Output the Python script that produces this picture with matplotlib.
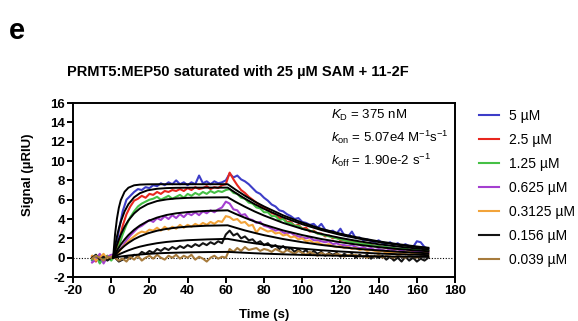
"""SPR sensorgram: PRMT5:MEP50 + 11-2F binding traces with 1:1 fits."""
import matplotlib

matplotlib.use("Agg")
import matplotlib.pyplot as plt
import numpy as np

plt.rcParams["font.family"] = ["Liberation Sans", "DejaVu Sans"]
plt.rcParams["mathtext.fontset"] = "custom"
plt.rcParams["mathtext.rm"] = "Liberation Sans"
plt.rcParams["mathtext.it"] = "Liberation Sans:italic"
plt.rcParams["axes.unicode_minus"] = False

labels = ["5 µM", "2.5 µM", "1.25 µM", "0.625 µM", "0.3125 µM", "0.156 µM", "0.039 µM"]
colors = ["#3d3dc8", "#e8261e", "#45c045", "#a43fd0", "#f2a33a", "#141414", "#a77b3c"]

# sampling times of the traces (s), -10 .. 166 every 2 s
data_t = np.arange(-10, 167, 2)

trace_5 = [
    -0.3, 0.2, -0.5, 0.1, -0.2, 0.0,
    0.4, 2.8, 4.8, 6.0, 6.4, 6.8, 7.1, 7.0, 7.3, 7.2,
    7.5, 7.4, 7.7, 7.5, 7.8, 7.6, 8.0, 7.6, 7.8, 7.5,
    7.8, 7.6, 8.5, 7.7, 7.9, 7.6, 7.9, 7.7, 7.8, 8.0,
    8.7, 8.3, 8.5, 8.1, 7.9, 7.6, 7.2, 6.8, 6.6, 6.2,
    5.9, 5.5, 5.3, 4.9, 4.8, 4.5, 4.3, 4.0, 4.1, 3.7,
    3.6, 3.4, 3.5, 3.1, 3.5, 2.9, 2.7, 2.8, 2.5, 3.0,
    2.3, 2.2, 2.7, 2.0, 2.1, 1.8, 1.9, 1.7, 1.6, 1.8,
    1.5, 1.4, 1.6, 1.3, 1.5, 1.2, 1.4, 1.2, 1.1, 1.7,
    1.6, 1.1, 0.9,
]
trace_2p5 = [
    0.1, -0.4, 0.3, -0.2, 0.2, -0.1,
    0.3, 1.6, 3.3, 4.5, 5.3, 5.9, 6.1, 6.4, 6.2, 6.6,
    6.5, 6.8, 6.6, 6.9, 6.8, 7.0, 6.9, 7.1, 6.9, 7.2,
    7.0, 7.3, 7.1, 7.2, 7.4, 7.1, 7.3, 7.2, 7.5, 7.6,
    8.8, 8.1, 7.5, 7.0, 6.7, 6.3, 6.0, 5.7, 5.4, 5.2,
    5.0, 4.6, 4.5, 4.1, 4.1, 3.7, 3.7, 3.3, 3.4, 3.0,
    3.1, 2.7, 2.8, 2.5, 2.5, 2.2, 2.3, 2.0, 2.1, 1.8,
    1.8, 1.7, 1.7, 1.6, 1.5, 1.4, 1.4, 1.3, 1.2, 1.2,
    1.1, 1.0, 1.0, 0.9, 0.9, 0.8, 0.9, 0.8, 0.7, 0.8,
    0.7, 0.6, 0.7,
]
trace_1p25 = [
    -0.2, 0.3, -0.6, 0.0, 0.2, -0.3,
    0.2, 1.2, 2.4, 3.4, 4.2, 4.8, 5.3, 5.6, 5.8, 6.0,
    6.1, 6.3, 6.0, 6.2, 6.4, 6.1, 6.3, 6.5, 6.2, 6.6,
    6.4, 6.7, 6.5, 6.8, 6.6, 6.9, 6.7, 6.9, 6.8, 7.0,
    7.1, 6.7, 6.6, 6.2, 6.1, 5.7, 5.6, 5.2, 5.1, 4.7,
    4.7, 4.3, 4.3, 3.9, 4.0, 3.6, 3.6, 3.3, 3.3, 3.0,
    2.9, 2.8, 2.7, 2.5, 2.4, 2.3, 2.2, 2.1, 2.0, 1.9,
    1.8, 1.7, 1.6, 1.6, 1.5, 1.4, 1.4, 1.3, 1.2, 1.2,
    1.1, 1.1, 1.0, 1.0, 0.9, 0.9, 1.0, 0.8, 0.8, 0.9,
    0.7, 0.8, 0.7,
]
trace_0p625 = [
    -0.5, -0.2, 0.4, -0.6, 0.1, 0.3,
    0.3, 0.7, 1.2, 1.8, 2.3, 2.7, 3.1, 3.3, 3.6, 3.9,
    3.7, 4.1, 3.9, 4.3, 4.0, 4.4, 4.1, 4.5, 4.2, 4.6,
    4.4, 4.7, 4.4, 4.8, 4.6, 4.9, 4.7, 5.0, 5.2, 5.8,
    5.6, 5.0, 4.9, 4.4, 4.5, 4.0, 3.9, 3.6, 3.7, 3.3,
    3.2, 3.0, 2.8, 2.9, 2.6, 2.5, 2.6, 2.3, 2.2, 2.1,
    2.0, 2.1, 1.8, 1.8, 1.7, 1.6, 1.7, 1.4, 1.5, 1.3,
    1.3, 1.2, 1.3, 1.1, 1.0, 1.1, 0.9, 1.0, 0.8, 0.9,
    0.8, 0.7, 0.9, 0.7, 0.6, 0.8, 0.6, 0.7, 0.5, 0.7,
    0.6, 0.5, 0.6,
]
trace_0p3125 = [
    0.2, -0.3, 0.0, 0.4, -0.2, 0.1,
    0.2, 0.6, 1.1, 1.5, 1.9, 2.2, 2.5, 2.7, 2.6, 2.9,
    2.8, 3.1, 2.8, 3.2, 2.9, 3.2, 3.0, 3.4, 3.1, 3.4,
    3.2, 3.5, 3.3, 3.6, 3.4, 3.7, 3.5, 3.8, 3.7, 4.3,
    4.2, 3.9, 4.0, 3.6, 3.7, 3.3, 3.4, 2.6, 3.1, 2.9,
    2.7, 2.8, 2.5, 2.6, 2.3, 2.4, 2.1, 2.2, 1.9, 2.0,
    1.7, 1.8, 1.5, 1.6, 1.4, 1.3, 1.4, 1.2, 1.1, 1.2,
    1.0, 1.1, 0.9, 1.0, 0.8, 0.9, 0.7, 0.8, 0.7, 0.6,
    0.7, 0.5, 0.6, 0.5, 0.6, 0.4, 0.5, 0.6, 0.4, 0.5,
    0.3, 0.5, 0.4,
]
trace_0p156 = [
    0.0, 0.3, -0.2, 0.1, -0.3, 0.0,
    0.0, -0.4, -0.2, 0.1, -0.1, 0.3, 0.2, 0.6, 0.4, 0.7,
    0.5, 0.9, 0.7, 1.0, 0.8, 1.1, 0.9, 1.2, 1.0, 1.3,
    1.1, 1.4, 1.2, 1.5, 1.3, 1.6, 1.4, 1.7, 1.5, 2.4,
    2.8, 2.3, 2.5, 2.0, 2.2, 1.8, 1.9, 1.5, 1.7, 1.3,
    1.5, 1.1, 1.3, 0.9, 1.2, 0.8, 1.0, 0.6, 0.9, 0.5,
    0.8, 0.3, 0.7, 0.4, 0.6, 0.2, 0.5, 0.3, 0.5, 0.1,
    0.4, 0.2, 0.4, 0.0, 0.3, 0.1, 0.3, -0.1, 0.2, 0.0,
    0.2, -0.2, 0.1, -0.3, 0.0, -0.4, 0.1, -0.3, 0.0, -0.4,
    -0.1, -0.3, 0.0,
]
trace_0p039 = [
    -0.1, 0.2, 0.0, -0.3, 0.1, 0.0,
    0.0, -0.3, -0.1, -0.4, 0.1, -0.2, 0.2, -0.3, 0.0, 0.2,
    -0.1, 0.3, 0.0, -0.2, 0.2, 0.0, 0.3, -0.1, 0.2, 0.0,
    0.3, -0.2, 0.1, -0.1, -0.4, 0.0, 0.2, -0.1, 0.1, 0.0,
    0.9, 0.6, 1.0, 0.7, 1.1, 0.8, 0.9, 1.0, 0.7, 0.9,
    0.8, 0.6, 0.9, 0.7, 0.5, 0.8, 0.6, 0.4, 0.7, 0.5,
    0.3, 0.6, 0.4, 0.2, 0.5, 0.3, 0.4, 0.2, 0.4, 0.3,
    0.1, 0.3, 0.2, 0.3, 0.1, 0.2, 0.0, 0.2, 0.1, 0.3,
    0.0, 0.2, 0.1, 0.0, 0.2, 0.1, 0.0, 0.2, 0.1, 0.0,
    0.1, 0.2, 0.1,
]
traces = [trace_5, trace_2p5, trace_1p25, trace_0p625, trace_0p3125, trace_0p156, trace_0p039]

# fitted curves (black), read at these times
fit_t = [1, 2, 3, 4, 5, 7, 9, 12, 15, 19, 24, 29, 34, 40, 50, 61,
         65, 70, 75, 80, 90, 100, 110, 120, 130, 140, 150, 160, 166]
fit_5 = [0, 2.40, 4.04, 5.17, 5.94, 6.82, 7.24, 7.49, 7.56, 7.59, 7.60, 7.60, 7.60, 7.60, 7.60, 7.60,
         7.05, 6.41, 5.82, 5.30, 4.38, 3.63, 2.99, 2.48, 2.05, 1.69, 1.40, 1.16, 1.03]
fit_2p5 = [0, 1.20, 2.19, 3.02, 3.72, 4.79, 5.53, 6.25, 6.67, 6.97, 7.13, 7.20, 7.23, 7.24, 7.25, 7.25,
           6.72, 6.11, 5.55, 5.05, 4.18, 3.46, 2.86, 2.36, 1.96, 1.62, 1.33, 1.10, 0.99]
fit_1p25 = [0, 0.71, 1.33, 1.89, 2.38, 3.21, 3.86, 4.58, 5.09, 5.53, 5.86, 6.03, 6.13, 6.19, 6.23, 6.25,
            5.79, 5.27, 4.79, 4.36, 3.60, 2.98, 2.46, 2.04, 1.69, 1.39, 1.15, 0.95, 0.85]
fit_0p625 = [0, 0.38, 0.73, 1.05, 1.35, 1.88, 2.34, 2.89, 3.33, 3.77, 4.15, 4.42, 4.59, 4.72, 4.84, 4.90,
             4.54, 4.13, 3.75, 3.42, 2.82, 2.34, 1.93, 1.60, 1.32, 1.09, 0.90, 0.74, 0.67]
fit_0p3125 = [0, 0.24, 0.47, 0.68, 0.88, 1.23, 1.53, 1.91, 2.20, 2.51, 2.79, 2.98, 3.11, 3.21, 3.31, 3.35,
              3.11, 2.82, 2.57, 2.33, 1.93, 1.60, 1.32, 1.09, 0.90, 0.75, 0.62, 0.51, 0.46]
fit_0p156 = [0, 0.12, 0.23, 0.33, 0.43, 0.60, 0.76, 0.97, 1.14, 1.32, 1.50, 1.63, 1.72, 1.81, 1.89, 1.95,
             1.81, 1.64, 1.49, 1.36, 1.12, 0.93, 0.77, 0.64, 0.53, 0.43, 0.36, 0.30, 0.27]
fit_0p039 = [0, 0.03, 0.06, 0.09, 0.12, 0.17, 0.22, 0.28, 0.33, 0.39, 0.45, 0.49, 0.52, 0.55, 0.58, 0.60,
             0.56, 0.51, 0.46, 0.42, 0.35, 0.29, 0.24, 0.20, 0.16, 0.13, 0.11, 0.09, 0.08]
fits = [fit_5, fit_2p5, fit_1p25, fit_0p625, fit_0p3125, fit_0p156, fit_0p039]

x_ticks = list(range(-20, 181, 20))
y_ticks = list(range(-2, 17, 2))

fig = plt.figure(figsize=(5.78, 3.21), dpi=100)
ax = fig.add_axes([0.1263, 0.137, 0.661, 0.542])

ax.axhline(0, color="black", linestyle=(0, (1, 1.5)), linewidth=0.8, zorder=1)
handles = []
for y, c, lab in zip(traces, colors, labels):
    (h,) = ax.plot(data_t, y, color=c, linewidth=1.5, label=lab, zorder=2)
    handles.append(h)
for f in fits:
    ax.plot(fit_t, f, color="black", linewidth=1.4, zorder=3)

ax.set_xlim(-20, 180)
ax.set_ylim(-2, 16)
ax.set_xticks(x_ticks)
ax.set_yticks(y_ticks)
for s in ax.spines.values():
    s.set_linewidth(1.4)
ax.tick_params(direction="out", length=4, width=1.4, pad=1.5, labelsize=9.5)
for lbl in ax.get_xticklabels() + ax.get_yticklabels():
    lbl.set_fontweight("bold")

fig.text(28 / 578, 1 - 175 / 321, "Signal (µRIU)", rotation=90, ha="center", va="center",
         fontsize=9.5, fontweight="bold")
fig.text(264 / 578, 1 - 315 / 321, "Time (s)", ha="center", va="center",
         fontsize=9.5, fontweight="bold")
fig.text(238 / 578, 1 - 72 / 321, "PRMT5:MEP50 saturated with 25 µM SAM + 11-2F",
         ha="center", va="center", fontsize=10.5, fontweight="bold")
fig.text(9 / 578, 1 - 39 / 321, "e", ha="left", va="baseline", fontsize=21, fontweight="bold")

ann = [r"$K_\mathrm{D}$ = 375 nM",
       r"$k_\mathrm{on}$ = 5.07e4 M$^{-1}$s$^{-1}$",
       r"$k_\mathrm{off}$ = 1.90e-2 s$^{-1}$"]
for i, s in enumerate(ann):
    fig.text(331 / 578, 1 - (115 + 22.5 * i) / 321, s, ha="left", va="center", fontsize=9.5)

fig.legend(handles=handles, loc="upper left", bbox_to_anchor=(479 / 578, 1 - 109 / 321),
           frameon=False, fontsize=10, handlelength=1.45, handletextpad=0.7,
           labelspacing=0.72, borderpad=0, borderaxespad=0)

fig.savefig("out.png", dpi=100)
